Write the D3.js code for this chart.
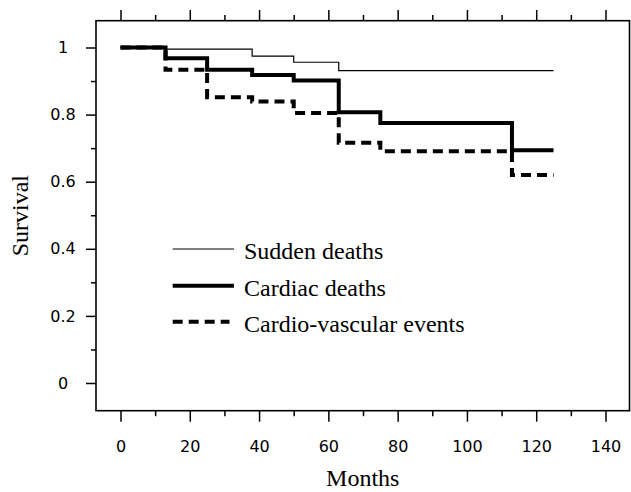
<!DOCTYPE html>
<html>
<head>
<meta charset="utf-8">
<script src="https://d3js.org/d3.v7.min.js"></script>
<style>
  body { margin: 0; background: #fff; }
  svg { display: block; }
  .tick text { font-family: "DejaVu Sans", sans-serif; font-size: 16px; fill: #000; }
  .tick line { stroke: #000; stroke-width: 1.5; }
  .lab { font-family: "Liberation Serif", "Times New Roman", serif; font-size: 24px; fill: #000; }
</style>
</head>
<body>
<script>
// follow-up times (months) where the curves step, and the last follow-up
var months = [0, 13, 25, 38, 50, 63, 75, 113];
var endMonth = 125;

// survival values right after each step
var sudden   = [1, 0.995, 0.995, 0.974, 0.956, 0.931, 0.931, 0.931];
var cardiac  = [1, 0.968, 0.934, 0.918, 0.902, 0.807, 0.775, 0.694];
var cvEvents = [1, 0.934, 0.852, 0.839, 0.805, 0.716, 0.691, 0.620];

var xTicks = [0, 20, 40, 60, 80, 100, 120, 140];
var xMinor = [10, 30, 50, 70, 90, 110, 130];
var yTicks = [0, 0.2, 0.4, 0.6, 0.8, 1];
var yMinor = [0.1, 0.3, 0.5, 0.7, 0.9];

var legendLabels = ["Sudden deaths", "Cardiac deaths", "Cardio-vascular events"];

var svgWidth = 631;
var svgHeight = 492;

// plot box
var box = { left: 96, top: 20.7, right: 629.5, bottom: 410.7 };

var svg = d3.select("body")
  .append("svg")
  .attr("width", svgWidth)
  .attr("height", svgHeight);

var x = d3.scaleLinear().domain([0, 140]).range([120.5, 605.5]);
var y = d3.scaleLinear().domain([0, 1]).range([383, 47.5]);

function noDomain(g) { g.select(".domain").remove(); }

// bottom axis
svg.append("g")
  .attr("transform", "translate(0," + box.bottom + ")")
  .call(d3.axisBottom(x).tickValues(xTicks).tickSize(11).tickPadding(19).tickFormat(d3.format("d")))
  .call(noDomain);
svg.append("g")
  .attr("transform", "translate(0," + box.bottom + ")")
  .call(d3.axisBottom(x).tickValues(xMinor).tickSize(5.5).tickFormat(""))
  .call(noDomain);

// top axis, ticks only
svg.append("g")
  .attr("transform", "translate(0," + box.top + ")")
  .call(d3.axisTop(x).tickValues(xTicks).tickSize(10.7).tickFormat(""))
  .call(noDomain);
svg.append("g")
  .attr("transform", "translate(0," + box.top + ")")
  .call(d3.axisTop(x).tickValues(xMinor).tickSize(5.7).tickFormat(""))
  .call(noDomain);

// left axis
var yAxis = svg.append("g")
  .attr("transform", "translate(" + box.left + ",0)")
  .call(d3.axisLeft(y).tickValues(yTicks).tickSize(10).tickFormat(function(d) { return String(d); }))
  .call(noDomain);
yAxis.selectAll(".tick text")
  .attr("x", -33)
  .attr("text-anchor", "middle");
svg.append("g")
  .attr("transform", "translate(" + box.left + ",0)")
  .call(d3.axisLeft(y).tickValues(yMinor).tickSize(5).tickFormat(""))
  .call(noDomain);

// frame
svg.append("rect")
  .attr("x", box.left)
  .attr("y", box.top)
  .attr("width", box.right - box.left)
  .attr("height", box.bottom - box.top)
  .attr("fill", "none")
  .attr("stroke", "#000")
  .attr("stroke-width", 1.6);

// survival curves
function steps(vals) {
  var pts = months.map(function(m, i) { return [m, vals[i]]; });
  pts.push([endMonth, vals[vals.length - 1]]);
  return pts;
}

var line = d3.line()
  .x(function(d) { return x(d[0]); })
  .y(function(d) { return y(d[1]); })
  .curve(d3.curveStepAfter);

var series = [
  { vals: sudden,   width: 1.2, dash: null },
  { vals: cardiac,  width: 4,   dash: null },
  { vals: cvEvents, width: 4,   dash: "10,6" }
];

// draw dashed first, then thin, then thick on top
[series[2], series[0], series[1]].forEach(function(s) {
  svg.append("path")
    .datum(steps(s.vals))
    .attr("d", line)
    .attr("fill", "none")
    .attr("stroke", "#000")
    .attr("stroke-width", s.width)
    .attr("stroke-dasharray", s.dash);
});

// legend
var legendY = [249, 285.7, 321.7];
series.forEach(function(s, i) {
  svg.append("line")
    .attr("x1", 172.7)
    .attr("x2", s.dash ? 229.5 : 234)
    .attr("y1", legendY[i])
    .attr("y2", legendY[i])
    .attr("stroke", "#000")
    .attr("stroke-width", s.width)
    .attr("stroke-dasharray", s.dash);
  svg.append("text")
    .attr("class", "lab")
    .attr("x", 244)
    .attr("y", legendY[i] + 10)
    .text(legendLabels[i]);
});

// axis titles
svg.append("text")
  .attr("class", "lab")
  .attr("text-anchor", "middle")
  .attr("x", (box.left + box.right) / 2)
  .attr("y", 486)
  .text("Months");

svg.append("text")
  .attr("class", "lab")
  .attr("text-anchor", "middle")
  .attr("transform", "translate(28," + ((box.top + box.bottom) / 2) + ") rotate(-90)")
  .text("Survival");
</script>
</body>
</html>
